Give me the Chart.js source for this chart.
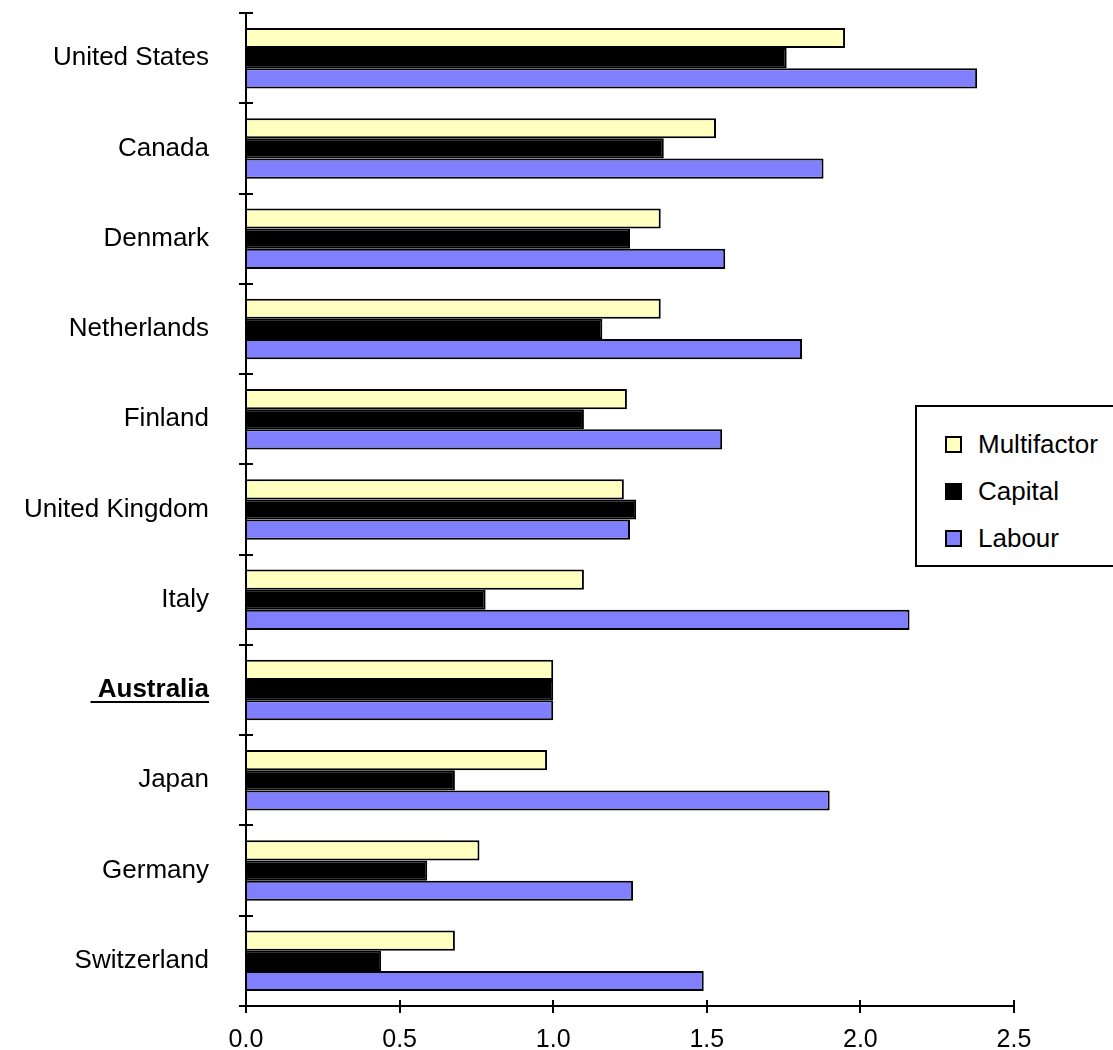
<!DOCTYPE html>
<html>
<head>
<meta charset="utf-8">
<script src="https://cdn.jsdelivr.net/npm/chart.js@4"></script>
<style>
  html, body { margin: 0; padding: 0; background: #fff; }
  #wrap { position: relative; width: 1113px; height: 1050px; overflow: hidden; }
  #legend {
    position: absolute; left: 915px; top: 405px; width: 230px; height: 158px;
    border: 2px solid #000; background: #fff;
    font-family: "Liberation Sans", Arial, sans-serif; font-size: 26px; color: #000;
  }
  .item { position: absolute; left: 28px; height: 30px; display: flex; align-items: center; white-space: nowrap; }
  .sw { width: 13px; height: 13px; border: 2px solid #000; margin-right: 16px; }
</style>
</head>
<body>
<div id="wrap">
  <canvas id="c" width="1113" height="1050"></canvas>
  <div id="legend"></div>
</div>
<script>
// Relative levels (Australia = 1.0)
const countries = ['United States', 'Canada', 'Denmark', 'Netherlands', 'Finland',
  'United Kingdom', 'Italy', 'Australia', 'Japan', 'Germany', 'Switzerland'];
const multifactor = [1.95, 1.53, 1.35, 1.35, 1.24, 1.23, 1.10, 1.00, 0.98, 0.76, 0.68];
const capital     = [1.76, 1.36, 1.25, 1.16, 1.10, 1.27, 0.78, 1.00, 0.68, 0.59, 0.44];
const labour      = [2.38, 1.88, 1.56, 1.81, 1.55, 1.25, 2.16, 1.00, 1.90, 1.26, 1.49];
const xMin = 0, xMax = 2.5, xStep = 0.5;
const highlighted = 'Australia';

const seriesNames   = ['Multifactor', 'Capital', 'Labour'];
const seriesValues  = [multifactor, capital, labour];
const seriesColours = ['#FFFFC0', '#000000', '#8080FF'];

const FONT = '"Liberation Sans", Arial, sans-serif';
const labelSize = 26;

// Tick marks that cross the axis lines, plus the underline of the highlighted label
const crossTicks = {
  id: 'crossTicks',
  afterDraw(chart) {
    const { ctx, scales: { x, y } } = chart;
    ctx.save();
    ctx.strokeStyle = '#000';
    ctx.lineWidth = 2;
    x.ticks.forEach(t => {
      const px = Math.round(x.getPixelForValue(t.value));
      ctx.beginPath(); ctx.moveTo(px, x.top); ctx.lineTo(px, x.top - 6); ctx.stroke();
    });
    const n = y.ticks.length;
    for (let i = 0; i <= n; i++) {
      const py = Math.round(y.top + i * (y.height / n));
      ctx.beginPath(); ctx.moveTo(y.right, py); ctx.lineTo(y.right + 7, py); ctx.stroke();
    }
    const idx = countries.indexOf(highlighted);
    if (idx >= 0) {
      ctx.font = 'bold ' + labelSize + 'px ' + FONT;
      const w = ctx.measureText(' ' + highlighted).width;
      const right = y.right - 7 - 30;
      const py = Math.round(y.getPixelForValue(idx) + 12);
      ctx.beginPath(); ctx.moveTo(right - w, py); ctx.lineTo(right, py); ctx.stroke();
    }
    ctx.restore();
  }
};

new Chart(document.getElementById('c'), {
  type: 'bar',
  data: {
    labels: countries,
    datasets: seriesNames.map((name, i) => ({
      label: name,
      data: seriesValues[i],
      backgroundColor: seriesColours[i],
      borderColor: '#000',
      borderWidth: 2,
      categoryPercentage: 0.67,
      barPercentage: 1.0
    }))
  },
  options: {
    indexAxis: 'y',
    responsive: false,
    animation: false,
    events: [],
    layout: { padding: { top: 13, right: 99, left: 0, bottom: 0 } },
    plugins: { legend: { display: false }, tooltip: { enabled: false } },
    scales: {
      x: {
        min: xMin, max: xMax,
        ticks: {
          stepSize: xStep,
          callback: v => Number(v).toFixed(1),
          color: '#000',
          font: { family: FONT, size: 25 },
          padding: 12,
          maxRotation: 0
        },
        grid: { drawOnChartArea: false, tickLength: 7, lineWidth: 2, color: '#000' },
        border: { display: true, color: '#000', width: 2 },
        afterFit: s => { s.height = 44; s.paddingLeft = 0; s.paddingRight = 0; }
      },
      y: {
        ticks: {
          callback: (v, i) => countries[i] === highlighted ? ' ' + countries[i] : countries[i],
          color: '#000',
          font: ctx => ({ family: FONT, size: labelSize,
            weight: countries[ctx.index] === highlighted ? 'bold' : 'normal' }),
          padding: 30
        },
        grid: { drawOnChartArea: false, offset: true, tickLength: 7, lineWidth: 2, color: '#000' },
        border: { display: true, color: '#000', width: 2 },
        afterFit: s => { s.width = 246; s.paddingTop = 0; s.paddingBottom = 0; }
      }
    }
  },
  plugins: [crossTicks]
});

// Legend box
const legend = document.getElementById('legend');
const rowTops = [22, 69, 116];
seriesNames.forEach((name, i) => {
  const item = document.createElement('div');
  item.className = 'item';
  item.style.top = rowTops[i] + 'px';
  const sw = document.createElement('span');
  sw.className = 'sw';
  sw.style.background = seriesColours[i];
  const tx = document.createElement('span');
  tx.textContent = name;
  item.appendChild(sw);
  item.appendChild(tx);
  legend.appendChild(item);
});
</script>
</body>
</html>
